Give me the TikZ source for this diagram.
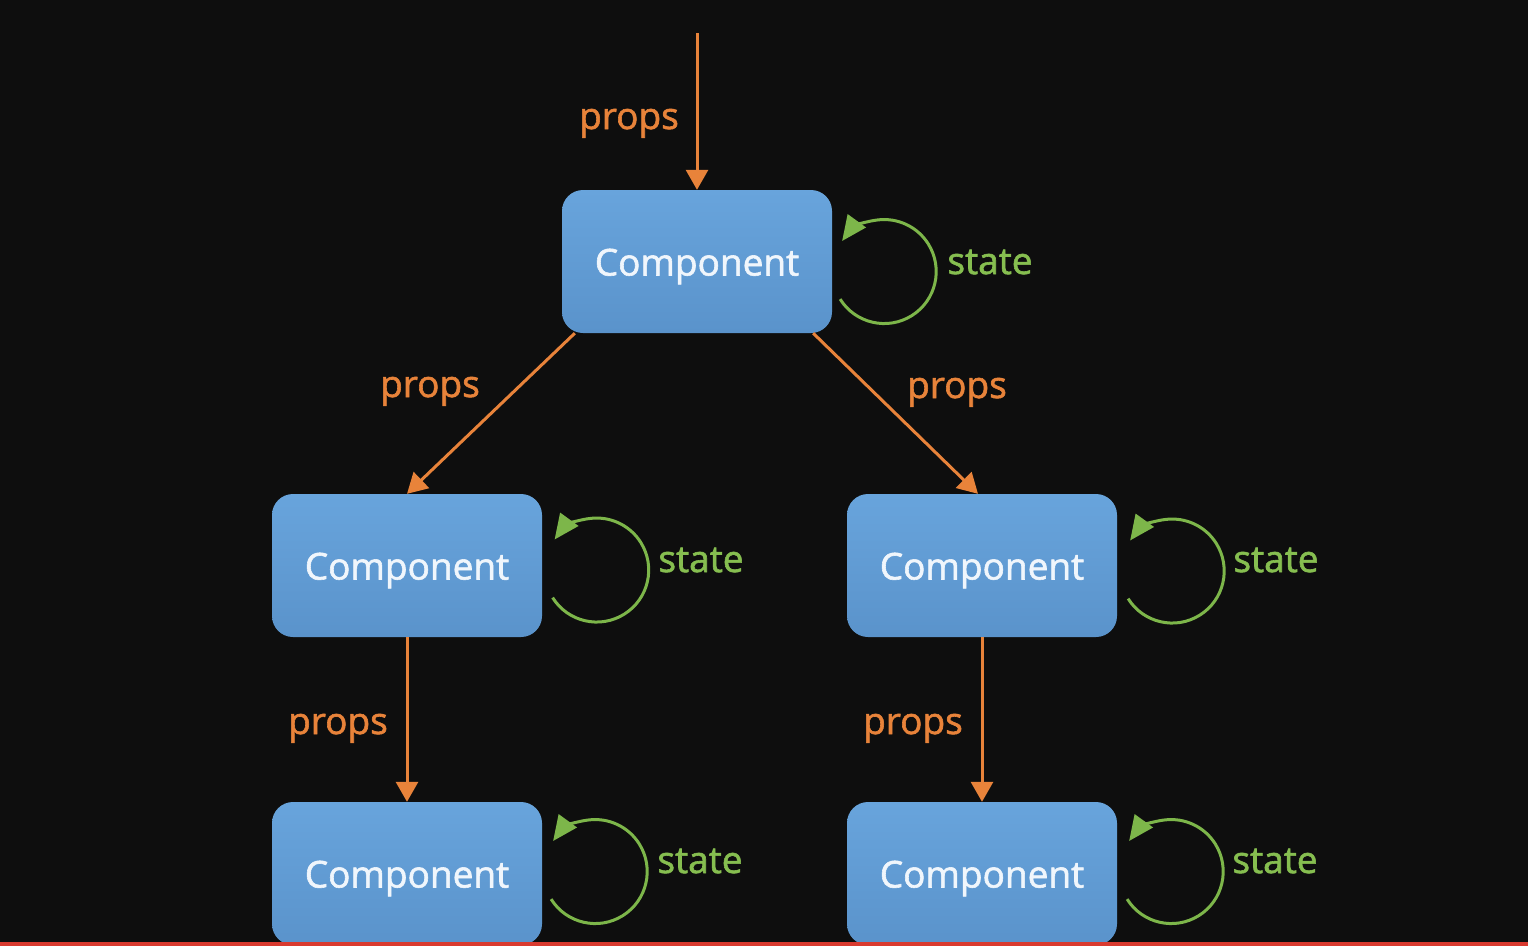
\documentclass[tikz,border=0pt]{standalone}
\usepackage{fontspec}
\setmainfont{Open Sans}
\newfontfamily\semifont{Open Sans}[FakeBold=1.6]
\usetikzlibrary{arrows.meta}
\definecolor{bg}{HTML}{0E0E0E}
\definecolor{boxtop}{HTML}{68A4DC}
\definecolor{boxbot}{HTML}{5A93CB}
\definecolor{orng}{HTML}{E8833A}
\definecolor{grn}{HTML}{7DB64A}
\definecolor{grntxt}{HTML}{86BE50}
\definecolor{txtw}{HTML}{F0F6FC}
\definecolor{barred}{HTML}{D93A2F}
\begin{document}
\begin{tikzpicture}[x=1pt,y=-1pt,
  comp/.style={rounded corners=21pt, minimum width=270pt, minimum height=143pt,
    top color=boxtop, bottom color=boxbot, text=txtw, inner sep=0pt,
    text height=32pt, text depth=4pt,
    font=\semifont\fontsize{37}{40}\selectfont},
  propsarrow/.style={draw=orng, line width=3pt, -{Triangle[length=20pt,width=22pt]}},
  proplabel/.style={text=orng, inner sep=0pt, anchor=base, font=\semifont\fontsize{37}{40}\selectfont},
  stateloop/.style={draw=grn, line width=3pt, -{Triangle[length=25pt,width=22pt]}},
  statelabel/.style={text=grntxt, inner sep=0pt, anchor=base, font=\semifont\fontsize{37}{40}\selectfont}]
\fill[bg] (0,0) rectangle (1528,946);
\useasboundingbox (0,0) rectangle (1528,946);

% components
\node[comp] (c1) at (697,261.5) {Component};
\node[comp] (c2) at (407,565.5) {Component};
\node[comp] (c3) at (982,565.5) {Component};
\node[comp] (c4) at (407,873.5) {Component};
\node[comp] (c5) at (982,873.5) {Component};

% props arrows
\coordinate (src) at (697,33);
\draw[propsarrow] (src) -- (c1.north);
\draw[propsarrow] ([xshift=13pt]c1.south west) -- (c2.north);
\draw[propsarrow] ([xshift=-19pt]c1.south east) -- ([xshift=-4pt]c3.north);
\draw[propsarrow] (c2.south) -- (c4.north);
\draw[propsarrow] (c3.south) -- (c5.north);

% props labels (placed by baseline)
\node[proplabel] (p1) at (629,129) {props};
\node[proplabel] (p2) at (430,397) {props};
\node[proplabel] (p3) at (957,398) {props};
\node[proplabel] (p4) at (338,734) {props};
\node[proplabel] (p5) at (913,734) {props};

% state loops
\foreach \n/\dx/\dy in {c1/52/10, c2/54.5/4.5, c3/55/5.5, c4/53/-2, c5/54/-2}{
  \draw[stateloop] ([shift={({\dx-44.1},{\dy+27.6})}]\n.east)
     arc[start angle=148, end angle=-144, radius=52];
}

% state labels (placed by baseline)
\node[statelabel] (s1) at (990,274) {state};
\node[statelabel] (s2) at (701,572) {state};
\node[statelabel] (s3) at (1276,572) {state};
\node[statelabel] (s4) at (700,873) {state};
\node[statelabel] (s5) at (1275,873) {state};

% bottom bar
\fill[barred] (0,942) rectangle (1528,946);
\end{tikzpicture}
\end{document}
